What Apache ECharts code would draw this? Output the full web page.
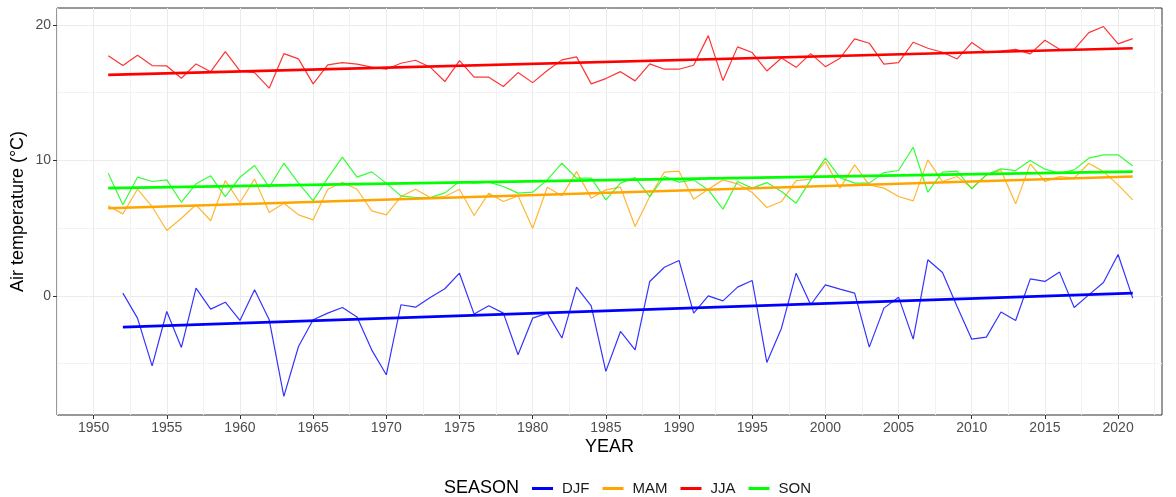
<!DOCTYPE html>
<html>
<head>
<meta charset="utf-8">
<script src="https://cdn.jsdelivr.net/npm/echarts@6/dist/echarts.min.js"></script>
<style>
  html, body { margin: 0; padding: 0; background: #ffffff; }
  #chart { width: 1176px; height: 497px; }
</style>
</head>
<body>
<div id="chart"></div>
<script>
// Seasonal mean air temperature (°C), one value per year starting 1951
const firstYear = 1951;
const seasons = ['DJF', 'MAM', 'JJA', 'SON'];

// Winter series begins in 1952 (no value for 1951)
const djf = [null, 0.2, -1.65, -5.17, -1.16, -3.81, 0.57, -0.98, -0.47, -1.82,
  0.44, -1.77, -7.43, -3.74, -1.77, -1.28, -0.86, -1.57, -3.99, -5.83,
  -0.66, -0.84, -0.12, 0.52, 1.67, -1.35, -0.74, -1.28, -4.35, -1.65,
  -1.28, -3.12, 0.64, -0.74, -5.58, -2.63, -3.99, 1.06, 2.11, 2.61,
  -1.28, 0.0, -0.37, 0.64, 1.13, -4.92, -2.39, 1.67, -0.66, 0.81,
  0.49, 0.2, -3.79, -0.91, -0.1, -3.2, 2.66, 1.72, -0.79, -3.2,
  -3.05, -1.2, -1.82, 1.25, 1.06, 1.75, -0.86, 0.07, 0.98, 3.05, -0.17];

const mam = [6.64, 6.05, 7.87, 6.59, 4.82, 5.73, 6.72, 5.54, 8.51, 6.89,
  8.63, 6.15, 6.84, 5.98, 5.61, 7.87, 8.39, 7.87, 6.27, 5.98,
  7.33, 7.87, 7.26, 7.33, 7.87, 5.93, 7.58, 6.96, 7.38, 4.99,
  8.02, 7.38, 9.17, 7.21, 7.82, 8.02, 5.12, 7.33, 9.13, 9.2,
  7.13, 7.87, 8.56, 8.27, 7.63, 6.52, 6.96, 8.51, 8.61, 9.91,
  7.95, 9.67, 8.19, 7.95, 7.33, 7.01, 10.04, 8.44, 8.81, 7.95,
  8.93, 9.25, 6.79, 9.74, 8.44, 8.81, 8.69, 9.79, 9.17, 8.19, 7.08];

const jja = [17.73, 17.0, 17.76, 17.0, 16.97, 16.06, 17.12, 16.55, 18.03, 16.6,
  16.48, 15.33, 17.88, 17.49, 15.65, 17.05, 17.22, 17.1, 16.88, 16.73,
  17.17, 17.39, 16.88, 15.82, 17.37, 16.14, 16.14, 15.45, 16.48, 15.74,
  16.63, 17.42, 17.64, 15.65, 16.04, 16.55, 15.87, 17.12, 16.73, 16.73,
  17.02, 19.21, 15.89, 18.38, 17.96, 16.6, 17.56, 16.87, 17.88, 16.92,
  17.54, 18.97, 18.65, 17.1, 17.22, 18.72, 18.28, 17.98, 17.49, 18.7,
  17.96, 18.06, 18.2, 17.86, 18.87, 18.2, 18.2, 19.43, 19.88, 18.6, 18.99];

const son = [9.05, 6.72, 8.76, 8.44, 8.56, 6.91, 8.27, 8.86, 7.33, 8.76,
  9.62, 8.02, 9.79, 8.32, 7.03, 8.69, 10.24, 8.76, 9.15, 8.32,
  7.38, 7.26, 7.26, 7.6, 8.44, 8.32, 8.39, 8.07, 7.58, 7.65,
  8.56, 9.79, 8.69, 8.69, 7.08, 8.32, 8.73, 7.33, 8.81, 8.39,
  8.56, 7.82, 6.4, 8.44, 7.95, 8.36, 7.7, 6.84, 8.56, 10.16,
  8.73, 8.32, 8.32, 9.1, 9.25, 10.97, 7.65, 9.13, 9.2, 7.9,
  8.93, 9.37, 9.25, 9.99, 9.35, 9.05, 9.3, 10.16, 10.41, 10.41, 9.59];

// Linear trend per season: value at the first and last year of each record
const trendYearsDJF = [1952, 2021];
const trendYearsOther = [1951, 2021];
const trendDJF = [-2.31, 0.2];
const trendMAM = [6.47, 8.81];
const trendJJA = [16.31, 18.28];
const trendSON = [7.95, 9.17];

// Axis ticks
const xMajorTicks = [1950, 1955, 1960, 1965, 1970, 1975, 1980, 1985, 1990, 1995, 2000, 2005, 2010, 2015, 2020];
const xMinorTicks = [1947.5, 1952.5, 1957.5, 1962.5, 1967.5, 1972.5, 1977.5, 1982.5, 1987.5, 1992.5, 1997.5, 2002.5, 2007.5, 2012.5, 2017.5, 2022.5];
const yMajorTicks = [0, 10, 20];
const yMinorTicks = [-5, 5, 15];

const colors = { DJF: '#0000FF', MAM: '#FFA500', JJA: '#FF0000', SON: '#00FF00' };
const FONT = '"Liberation Sans", Arial, Helvetica, sans-serif';

function toPairs(values) {
  const out = [];
  values.forEach((v, i) => { if (v !== null) out.push([firstYear + i, v]); });
  return out;
}
function trendPairs(yrs, vals) {
  return [[yrs[0], vals[0]], [yrs[1], vals[1]]];
}

const seasonData = { DJF: djf, MAM: mam, JJA: jja, SON: son };
const seasonTrend = {
  DJF: trendPairs(trendYearsDJF, trendDJF),
  MAM: trendPairs(trendYearsOther, trendMAM),
  JJA: trendPairs(trendYearsOther, trendJJA),
  SON: trendPairs(trendYearsOther, trendSON)
};

const series = [];
seasons.forEach(s => {
  series.push({
    name: s, type: 'line', xAxisIndex: 0, yAxisIndex: 0,
    data: toPairs(seasonData[s]),
    color: colors[s],
    showSymbol: false, symbol: 'none',
    lineStyle: { color: colors[s], width: 1.2, opacity: 0.8 },
    z: 3
  });
});
seasons.forEach(s => {
  series.push({
    name: s, type: 'line', xAxisIndex: 0, yAxisIndex: 0,
    data: seasonTrend[s],
    color: colors[s],
    showSymbol: false, symbol: 'none',
    lineStyle: { color: colors[s], width: 2.6 },
    z: 4
  });
});

const X_MIN = 1947.5, X_MAX = 2023;
const Y_MIN = -8.8, Y_MAX = 21.25;
const plainNumber = v => String(v);

const chart = echarts.init(document.getElementById('chart'), null, { renderer: 'canvas' });
chart.setOption({
  animation: false,
  backgroundColor: '#ffffff',
  textStyle: { fontFamily: FONT },
  grid: {
    left: 57, right: 14, top: 8, bottom: 82,
    containLabel: false, outerBoundsMode: 'none',
    show: true, borderColor: '#333333', borderWidth: 1, backgroundColor: 'transparent'
  },
  xAxis: [
    {
      type: 'value', min: X_MIN, max: X_MAX, position: 'bottom',
      axisLine: { show: false, onZero: false },
      axisTick: { show: true, customValues: xMajorTicks, length: 4, lineStyle: { color: '#333333', width: 1 } },
      axisLabel: { customValues: xMajorTicks, formatter: plainNumber, color: '#4D4D4D', fontSize: 14, margin: 6, fontFamily: FONT },
      splitLine: { show: true, lineStyle: { color: '#EBEBEB', width: 1 } },
      name: 'YEAR', nameLocation: 'middle', nameGap: 23, nameMoveOverlap: false,
      nameTextStyle: { color: '#000000', fontSize: 18, fontFamily: FONT }
    },
    {
      type: 'value', min: X_MIN, max: X_MAX, position: 'top',
      axisLine: { show: false, onZero: false },
      axisTick: { show: false, customValues: xMinorTicks },
      axisLabel: { show: false, customValues: xMinorTicks },
      splitLine: { show: true, lineStyle: { color: '#F2F2F2', width: 1 } }
    }
  ],
  yAxis: [
    {
      type: 'value', min: Y_MIN, max: Y_MAX, position: 'left',
      axisLine: { show: false, onZero: false },
      axisTick: { show: true, customValues: yMajorTicks, length: 4, lineStyle: { color: '#333333', width: 1 } },
      axisLabel: { customValues: yMajorTicks, formatter: plainNumber, color: '#4D4D4D', fontSize: 14, margin: 6, fontFamily: FONT },
      splitLine: { show: true, lineStyle: { color: '#EBEBEB', width: 1 } },
      name: 'Air temperature (°C)', nameLocation: 'middle', nameGap: 30, nameRotate: 90, nameMoveOverlap: false,
      nameTextStyle: { color: '#000000', fontSize: 18, fontFamily: FONT }
    },
    {
      type: 'value', min: Y_MIN, max: Y_MAX, position: 'right',
      axisLine: { show: false, onZero: false },
      axisTick: { show: false, customValues: yMinorTicks },
      axisLabel: { show: false, customValues: yMinorTicks },
      splitLine: { show: true, lineStyle: { color: '#F2F2F2', width: 1 } }
    }
  ],
  legend: {
    data: seasons,
    left: 527, top: 476,
    icon: 'rect', itemWidth: 21, itemHeight: 3, itemGap: 13,
    textStyle: { color: '#1A1A1A', fontSize: 15, fontFamily: FONT, padding: [0, 0, 0, 4] },
    selectedMode: false
  },
  graphic: [
    {
      type: 'text', left: 444, top: 479,
      style: { text: 'SEASON', fontSize: 18, fill: '#000000', fontFamily: FONT }
    }
  ],
  series: series
});
</script>
</body>
</html>
